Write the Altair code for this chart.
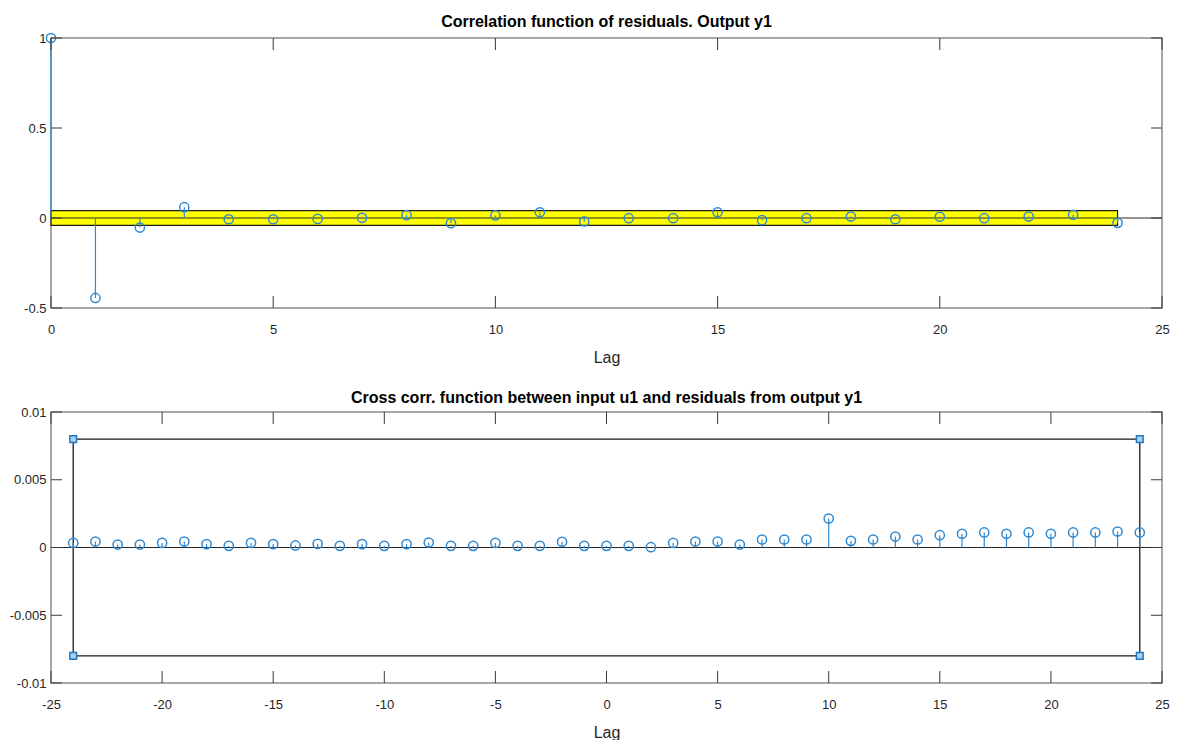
import altair as alt
import pandas as pd

# ---------------- data ----------------
top_lags = list(range(0, 25))
top_vals = [1.0, -0.444, -0.053, 0.060, -0.007, -0.007, -0.005, 0.001, 0.016,
            -0.029, 0.014, 0.032, -0.019, -0.001, -0.001, 0.032, -0.012, -0.001,
            0.008, -0.007, 0.007, -0.001, 0.008, 0.018, -0.027]
top_band_lags = [0, 24]
top_band = [-0.041, 0.041]
top_xdomain = [0, 25]
top_ydomain = [-0.5, 1]
top_xticks = [0, 5, 10, 15, 20, 25]
top_yticks = [-0.5, 0, 0.5, 1]
top_title = "Correlation function of residuals. Output y1"

bot_lags = list(range(-24, 25))
bot_vals = [0.00034, 0.00044, 0.00022, 0.00022, 0.00034, 0.00044, 0.00025, 0.00012,
            0.00034, 0.00025, 0.00015, 0.00027, 0.00012, 0.00025, 0.00012, 0.00025,
            0.00037, 0.00012, 0.00012, 0.00034, 0.00012, 0.00012, 0.00042, 0.00012,
            0.00012, 0.00012, 0.00002, 0.00034, 0.00044, 0.00044, 0.00022, 0.00059,
            0.00059, 0.00059, 0.00214, 0.00049, 0.00059, 0.00081, 0.00059, 0.00091,
            0.00101, 0.00111, 0.00101, 0.00111, 0.00101, 0.00111, 0.00111, 0.00118,
            0.00111]
bot_band_lags = [-24, 24]
bot_band = [-0.008, 0.008]
bot_xdomain = [-25, 25]
bot_ydomain = [-0.01, 0.01]
bot_xticks = [-25, -20, -15, -10, -5, 0, 5, 10, 15, 20, 25]
bot_yticks = [-0.01, -0.005, 0, 0.005, 0.01]
bot_title = "Cross corr. function between input u1 and residuals from output y1"

# ---------------- style ----------------
W = 1111
H1 = 270
H2 = 271
BLUE = "#2f8ad3"
TICK = "#3a3a3a"
FONT = "Liberation Sans"


def panel(lags, vals, band_lags, band, xdom, ydom, xticks, yticks, title, H, kind):
    xs = alt.Scale(domain=xdom, nice=False, zero=False)
    ys = alt.Scale(domain=ydom, nice=False, zero=False)
    xaxis = alt.Axis(values=xticks, title="Lag", ticks=False, domain=False, grid=False,
                     labelFlush=False, labelOverlap=False, labelPadding=15,
                     titlePadding=13, labelExpr="datum.value + ''")
    yaxis = alt.Axis(values=yticks, title=None, ticks=False, domain=False, grid=False,
                     labelFlush=False, labelOverlap=False, labelPadding=5,
                     labelExpr="datum.value + ''")

    def X(f):
        return alt.X(f, type="quantitative", scale=xs, axis=xaxis)

    def Y(f):
        return alt.Y(f, type="quantitative", scale=ys, axis=yaxis)

    df = pd.DataFrame({"lag": lags, "val": vals, "zero": [0] * len(lags)})
    band_df = pd.DataFrame({"x0": [band_lags[0]], "x1": [band_lags[1]],
                            "lo": [band[0]], "hi": [band[1]]})
    zero_df = pd.DataFrame({"x0": [xdom[0]], "x1": [xdom[1]], "z": [0]})
    xt = pd.DataFrame({"t": xticks})
    yt = pd.DataFrame({"t": yticks})

    layers = []
    if kind == "band":
        layers.append(alt.Chart(band_df).mark_rect(fill="#ffff00", stroke="#1a1a1a",
                                                   strokeWidth=1.2).encode(
            x=X("x0"), x2="x1", y=Y("lo"), y2="hi"))
    else:
        layers.append(alt.Chart(band_df).mark_rect(fill="transparent", stroke="#1a1a1a",
                                                   strokeWidth=1.3).encode(
            x=X("x0"), x2="x1", y=Y("lo"), y2="hi"))
    layers.append(alt.Chart(zero_df).mark_rule(color="#262626", strokeWidth=1.1).encode(
        x=X("x0"), x2="x1", y=Y("z")))
    layers.append(alt.Chart(df).mark_rule(color=BLUE, strokeWidth=1.2).encode(
        x=X("lag"), y=Y("zero"), y2="val"))
    layers.append(alt.Chart(df).mark_point(shape="circle", filled=False, color=BLUE,
                                           size=85, strokeWidth=1.5, opacity=1).encode(
        x=X("lag"), y=Y("val")))
    if kind == "box":
        corners = pd.DataFrame({"cx": [band_lags[0], band_lags[0], band_lags[1], band_lags[1]],
                                "cy": [band[0], band[1], band[0], band[1]]})
        layers.append(alt.Chart(corners).mark_point(shape="square", filled=True,
                                                    fill="#a9d1f2", stroke="#1f78c4",
                                                    strokeWidth=1.5, size=45, opacity=1).encode(
            x=X("cx"), y=Y("cy")))
    # inward ticks on all four sides
    layers.append(alt.Chart(xt).mark_rule(color=TICK, strokeWidth=1).encode(
        x=X("t"), y=alt.value(0), y2=alt.value(12)))
    layers.append(alt.Chart(xt).mark_rule(color=TICK, strokeWidth=1).encode(
        x=X("t"), y=alt.value(H - 12), y2=alt.value(H)))
    layers.append(alt.Chart(yt).mark_rule(color=TICK, strokeWidth=1).encode(
        y=Y("t"), x=alt.value(0), x2=alt.value(11)))
    layers.append(alt.Chart(yt).mark_rule(color=TICK, strokeWidth=1).encode(
        y=Y("t"), x=alt.value(W - 11), x2=alt.value(W)))

    return alt.layer(*layers).properties(
        width=W, height=H,
        title=alt.TitleParams(title, fontSize=16, font=FONT, fontWeight="bold",
                              color="black", offset=0, anchor="middle"))


top = panel(top_lags, top_vals, top_band_lags, top_band, top_xdomain, top_ydomain,
            top_xticks, top_yticks, top_title, H1, "band")
bot = panel(bot_lags, bot_vals, bot_band_lags, bot_band, bot_xdomain, bot_ydomain,
            bot_xticks, bot_yticks, bot_title, H2, "box")

chart = alt.vconcat(top, bot, spacing=23).properties(
    padding={"left": 0, "top": 5, "right": 0, "bottom": 0},
    background="white",
).configure_view(
    stroke="#8a8a8a", strokeWidth=1.5
).configure_axis(
    labelFont=FONT, labelFontSize=13, labelColor="#262626",
    titleFont=FONT, titleFontSize=16, titleFontWeight="normal", titleColor="#262626",
)

chart.save("out.html", embed_options={"renderer": "svg", "actions": False})
